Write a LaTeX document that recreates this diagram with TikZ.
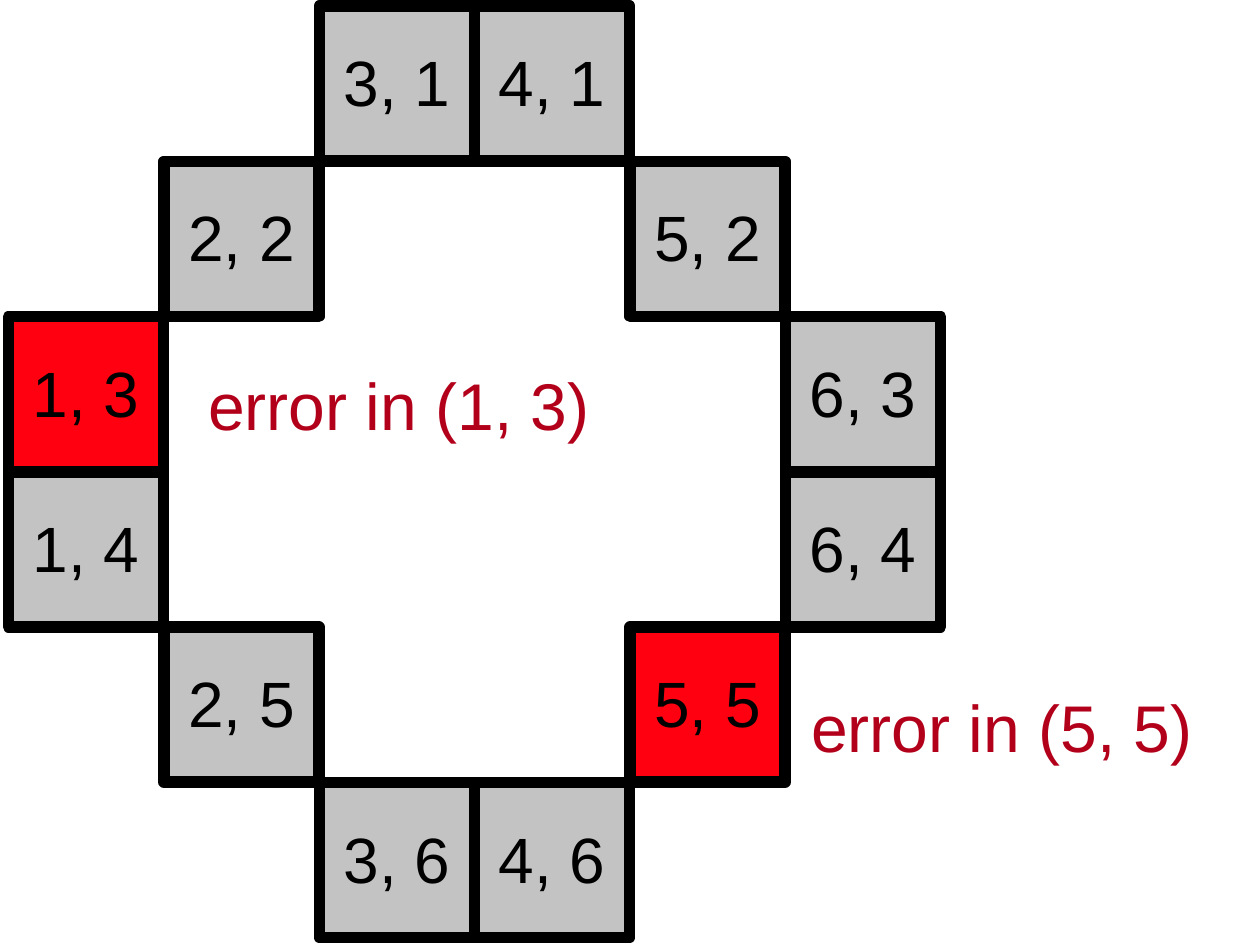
\documentclass[tikz,border=0pt]{standalone}
\usepackage{fontspec}
\setmainfont{Liberation Sans}
\definecolor{cellgray}{HTML}{C3C3C3}
\definecolor{cellred}{HTML}{FF0010}
\definecolor{errred}{HTML}{B3001A}
\tikzset{
  cell/.style={draw=black, line width=11.5pt, line join=round, rectangle,
    minimum width=155pt, minimum height=155pt, inner sep=0pt, outer sep=0pt,
    anchor=north west, text height=46pt, text depth=0pt,
    font=\fontsize{64}{76}\selectfont},
  graycell/.style={cell, fill=cellgray},
  redcell/.style={cell, fill=cellred},
  errtext/.style={anchor=base west, text=errred, inner sep=0pt,
    font=\fontsize{66}{79}\selectfont}
}
\begin{document}
\begin{tikzpicture}[x=1pt, y=-1pt]
\useasboundingbox (0,0) rectangle (1256,944);
\node[graycell] (c31) at ({8.5+2*155.4},{6+0*155.3}) {3, 1};
\node[graycell] (c41) at ({8.5+3*155.4},{6+0*155.3}) {4, 1};
\node[graycell] (c22) at ({8.5+1*155.4},{6+1*155.3}) {2, 2};
\node[graycell] (c52) at ({8.5+4*155.4},{6+1*155.3}) {5, 2};
\node[redcell]  (c13) at ({8.5+0*155.4},{6+2*155.3}) {1, 3};
\node[graycell] (c63) at ({8.5+5*155.4},{6+2*155.3}) {6, 3};
\node[graycell] (c14) at ({8.5+0*155.4},{6+3*155.3}) {1, 4};
\node[graycell] (c64) at ({8.5+5*155.4},{6+3*155.3}) {6, 4};
\node[graycell] (c25) at ({8.5+1*155.4},{6+4*155.3}) {2, 5};
\node[redcell]  (c55) at ({8.5+4*155.4},{6+4*155.3}) {5, 5};
\node[graycell] (c36) at ({8.5+2*155.4},{6+5*155.3}) {3, 6};
\node[graycell] (c46) at ({8.5+3*155.4},{6+5*155.3}) {4, 6};
\node[errtext] (e13) at (208,430) {error in (1, 3)};
\node[errtext] (e55) at (811,752) {error in (5, 5)};
\end{tikzpicture}
\end{document}
